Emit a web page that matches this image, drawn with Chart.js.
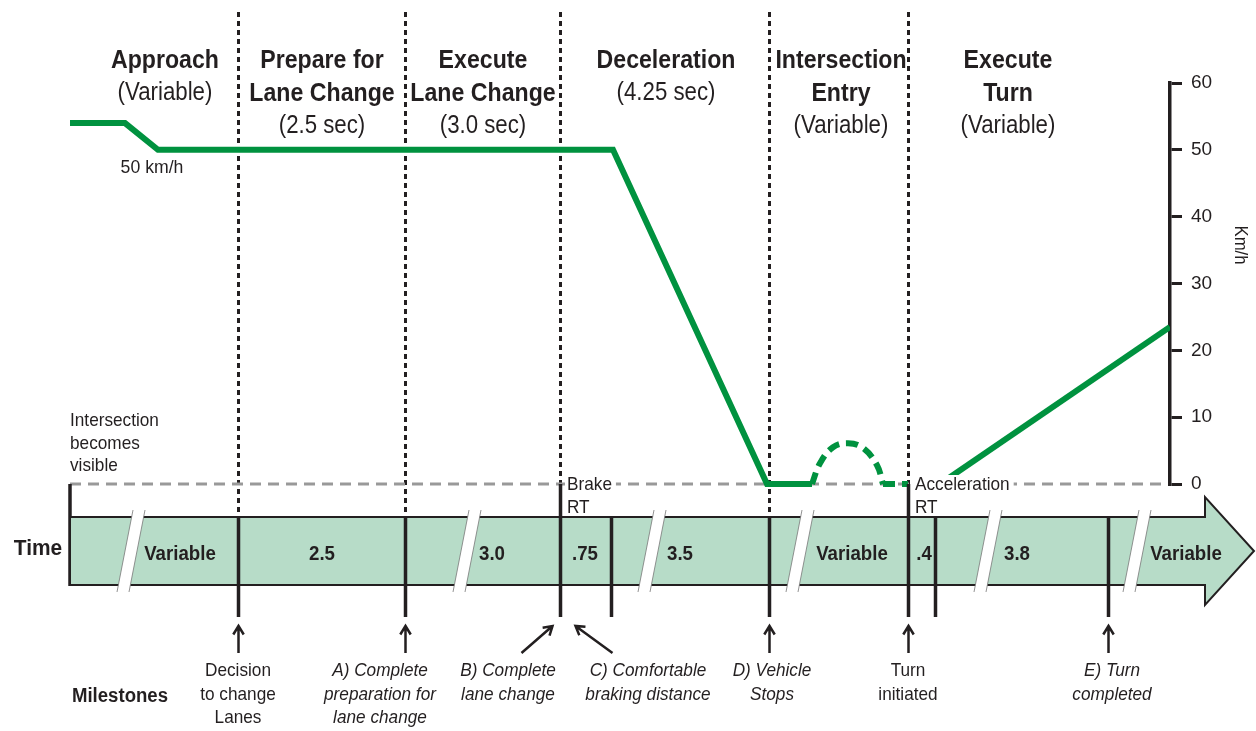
<!DOCTYPE html>
<html>
<head>
<meta charset="utf-8">
<script src="https://cdn.jsdelivr.net/npm/chart.js@4/dist/chart.umd.min.js"></script>
<style>
  html, body { margin: 0; padding: 0; background: #fff; }
  #chart { display: block; }
</style>
</head>
<body>
<canvas id="chart" width="1256" height="731"></canvas>
<script>
/* ---------------------------------- Data ---------------------------------- */
// x is position along the diagram (0 = left edge, 1100 = speed axis)
const profileX = [0, 55, 88, 543, 697, 742];
const profileY = [54, 54, 50, 50, 0, 0];
const creepX = [742, 750, 763, 778, 793, 807, 813];
const creepY = [0, 3.1, 5.5, 6.1, 5.4, 2.8, 0];
const waitX = [813, 838];
const waitY = [0, 0];
const accelX = [870, 1100];
const accelY = [0, 23.5];
const baseX = [0, 1095];
const baseY = [0, 0];

const phaseCenters = [95, 252, 413, 596, 771, 938];
const phaseTitles = [["Approach"], ["Prepare for", "Lane Change"], ["Execute", "Lane Change"],
  ["Deceleration"], ["Intersection", "Entry"], ["Execute", "Turn"]];
const phaseDurations = ["(Variable)", "(2.5 sec)", "(3.0 sec)", "(4.25 sec)", "(Variable)", "(Variable)"];

const milestoneX = [168, 335, 490, 541, 699, 838, 865, 1038];
const dottedX = [168, 335, 490, 699, 838];
const breakX = [69, 405, 590, 738, 926, 1075];
const bandLabels = ["Variable", "2.5", "3.0", ".75", "3.5", "Variable", ".4", "3.8", "Variable"];
const bandLabelX = [110, 252, 422, 515, 610, 782, 854, 947, 1116];

const milestoneNames = [["Decision", "to change", "Lanes"], ["A) Complete", "preparation for", "lane change"],
  ["B) Complete", "lane change"], ["C) Comfortable", "braking distance"], ["D) Vehicle", "Stops"],
  ["Turn", "initiated"], ["E) Turn", "completed"]];
const milestoneNameX = [168, 310, 438, 578, 702, 838, 1042];
const milestoneItalic = [false, true, true, true, true, false, true];
// arrows: [tail x, tip x]
const arrowFrom = [168, 335, 451, 542, 699, 838, 1038];
const arrowTo = [168, 335, 482, 505, 699, 838, 1038];

/* --------------------------------- Helpers -------------------------------- */
const FONT = "'Liberation Sans', Arial, sans-serif";
const INK = "#231f20";
const GREEN = "#00923f";

const pts = (xs, ys) => xs.map((x, i) => ({ x, y: ys[i] }));

function label(ctx, s, x, y, size, opts = {}) {
  const { weight = "normal", style = "normal", align = "center", sx = 0.9 } = opts;
  ctx.save();
  ctx.font = `${style} ${weight} ${size}px ${FONT}`;
  ctx.textBaseline = "middle";
  ctx.textAlign = align;
  ctx.fillStyle = INK;
  ctx.translate(x, y);
  ctx.scale(sx, 1);
  ctx.fillText(s, 0, 0);
  const w = ctx.measureText(s).width * sx;
  ctx.restore();
  return w;
}

function arrow(ctx, x1, y1, x2, y2) {
  const a = Math.atan2(y2 - y1, x2 - x1);
  ctx.beginPath();
  ctx.moveTo(x1, y1);
  ctx.lineTo(x2, y2);
  ctx.moveTo(x2 - 10 * Math.cos(a - 0.55), y2 - 10 * Math.sin(a - 0.55));
  ctx.lineTo(x2, y2);
  ctx.lineTo(x2 - 10 * Math.cos(a + 0.55), y2 - 10 * Math.sin(a + 0.55));
  ctx.stroke();
}

/* --------------------------------- Plugin --------------------------------- */
const bandTop = 517, bandBot = 585;

const diagram = {
  id: "diagram",
  beforeDatasetsDraw(chart) {
    const { ctx } = chart;
    const xs = chart.scales.x;
    ctx.save();
    ctx.strokeStyle = INK;
    ctx.lineWidth = 3;
    ctx.setLineDash([5, 4]);
    dottedX.forEach((v) => {
      const px = Math.round(xs.getPixelForValue(v)) + 0.5;
      const end = v === 490 || v === 838 ? chart.chartArea.bottom : bandTop;
      ctx.beginPath();
      ctx.moveTo(px, 12);
      ctx.lineTo(px, end);
      ctx.stroke();
    });
    ctx.restore();
  },
  afterDatasetsDraw(chart) {
    const { ctx } = chart;
    const xs = chart.scales.x;
    const left = xs.getPixelForValue(0);
    const zeroY = chart.scales.y.getPixelForValue(0);

    // phase headers
    phaseCenters.forEach((c, i) => {
      const px = xs.getPixelForValue(c);
      let y = 61;
      phaseTitles[i].forEach((t) => {
        label(ctx, t, px, y, 26, { weight: "bold", sx: 0.89 });
        y += 32.5;
      });
      label(ctx, phaseDurations[i], px, y, 25, { sx: 0.89 });
    });

    label(ctx, "50 km/h", xs.getPixelForValue(82), 168, 19, { sx: 0.93 });
    ["Intersection", "becomes", "visible"].forEach((t, i) =>
      label(ctx, t, left, 421 + i * 22.5, 18.5, { align: "left", sx: 0.93 }));

    // Brake / Acceleration RT with white backing
    [[490, "Brake"], [838, "Acceleration"]].forEach(([v, t]) => {
      const px = xs.getPixelForValue(v) + 7;
      ctx.save();
      ctx.font = `18.5px ${FONT}`;
      const w = ctx.measureText(t).width * 0.93;
      ctx.fillStyle = "#fff";
      ctx.fillRect(px - 2, zeroY - 9, w + 6, 20);
      ctx.restore();
      label(ctx, t, px, zeroY + 1, 18.5, { align: "left", sx: 0.93 });
      label(ctx, "RT", px, zeroY + 24, 18.5, { align: "left", sx: 0.93 });
    });

    // left edge
    ctx.save();
    ctx.strokeStyle = INK;
    ctx.lineWidth = 3.5;
    ctx.beginPath();
    ctx.moveTo(left, zeroY);
    ctx.lineTo(left, bandBot + 1);
    ctx.stroke();

    // time arrow band
    const headX = 1205, tipX = 1254, mid = (bandTop + bandBot) / 2;
    ctx.beginPath();
    ctx.moveTo(left, bandTop);
    ctx.lineTo(headX, bandTop);
    ctx.lineTo(headX, bandTop - 20);
    ctx.lineTo(tipX, mid);
    ctx.lineTo(headX, bandBot + 20);
    ctx.lineTo(headX, bandBot);
    ctx.lineTo(left, bandBot);
    ctx.closePath();
    ctx.fillStyle = "#b7dcc8";
    ctx.fill();
    ctx.lineWidth = 2;
    ctx.stroke();

    // breaks
    breakX.forEach((v) => {
      const px = xs.getPixelForValue(v);
      ctx.beginPath();
      ctx.moveTo(px - 6, bandTop - 7);
      ctx.lineTo(px + 6, bandTop - 7);
      ctx.lineTo(px - 10, bandBot + 7);
      ctx.lineTo(px - 22, bandBot + 7);
      ctx.closePath();
      ctx.fillStyle = "#fff";
      ctx.fill();
      ctx.lineWidth = 0.8;
      ctx.strokeStyle = "#777";
      ctx.beginPath();
      ctx.moveTo(px - 6, bandTop - 7);
      ctx.lineTo(px - 22, bandBot + 7);
      ctx.moveTo(px + 6, bandTop - 7);
      ctx.lineTo(px - 10, bandBot + 7);
      ctx.stroke();
    });

    // milestone ticks
    ctx.strokeStyle = INK;
    ctx.lineWidth = 3.5;
    milestoneX.forEach((v) => {
      const px = Math.round(xs.getPixelForValue(v)) + 0.5;
      const start = v === 490 || v === 838 ? zeroY : bandTop;
      ctx.beginPath();
      ctx.moveTo(px, start);
      ctx.lineTo(px, 617);
      ctx.stroke();
    });

    // milestone arrows
    ctx.lineWidth = 2.5;
    arrowFrom.forEach((v, i) => {
      const tail = xs.getPixelForValue(v) + 0.5;
      const tip = xs.getPixelForValue(arrowTo[i]) + 0.5;
      arrow(ctx, tail, 653, tip, 626);
    });
    ctx.restore();

    bandLabels.forEach((t, i) =>
      label(ctx, t, xs.getPixelForValue(bandLabelX[i]), 554, 21, { weight: "bold", sx: 0.89 }));
    label(ctx, "Time", 38, 549, 22, { weight: "bold", sx: 0.95 });
    label(ctx, "Milestones", 120, 696, 20, { weight: "bold", sx: 0.93 });

    milestoneNames.forEach((lines, i) => {
      const px = xs.getPixelForValue(milestoneNameX[i]);
      lines.forEach((t, j) =>
        label(ctx, t, px, 671 + j * 23.5, 18.5, { style: milestoneItalic[i] ? "italic" : "normal", sx: 0.93 }));
    });

    // axis title
    ctx.save();
    ctx.translate(1240, 245);
    ctx.rotate(Math.PI / 2);
    label(ctx, "Km/h", 0, 0, 18, { sx: 0.93 });
    ctx.restore();
  },
};

/* ---------------------------------- Chart --------------------------------- */
const noClip = { left: 10, top: 10, right: 0, bottom: 10 };
const lineStyle = {
  borderColor: GREEN,
  borderWidth: 6,
  pointRadius: 0,
  borderJoinStyle: "miter",
  borderCapStyle: "butt",
  fill: false,
  clip: noClip,
};

new Chart(document.getElementById("chart"), {
  type: "line",
  data: {
    datasets: [
      { ...lineStyle, label: "Speed", data: pts(profileX, profileY) },
      { ...lineStyle, label: "Creep", data: pts(creepX, creepY), borderDash: [12, 7], tension: 0.4 },
      { ...lineStyle, label: "Wait", data: pts(waitX, waitY), borderDash: [12, 7] },
      { ...lineStyle, label: "Accelerate", data: pts(accelX, accelY) },
      { label: "Zero", data: pts(baseX, baseY), borderColor: "#999", borderWidth: 3,
        borderDash: [11, 7], pointRadius: 0, fill: false, clip: noClip },
    ],
  },
  options: {
    responsive: false,
    animation: false,
    devicePixelRatio: 1,
    layout: { padding: { left: 70, top: 83, bottom: 247, right: 0 } },
    plugins: { legend: { display: false }, tooltip: { enabled: false } },
    scales: {
      x: { type: "linear", display: false, min: 0, max: 1100 },
      y: {
        position: "right",
        min: 0,
        max: 60,
        ticks: { stepSize: 10, color: INK, padding: 9, font: { family: FONT, size: 19 } },
        grid: { drawOnChartArea: false, drawTicks: true, tickLength: 12, color: INK, lineWidth: 3 },
        border: { color: INK, width: 3.5 },
        afterFit(scale) {
          scale.width = 86;
        },
      },
    },
  },
  plugins: [diagram],
});
</script>
</body>
</html>
